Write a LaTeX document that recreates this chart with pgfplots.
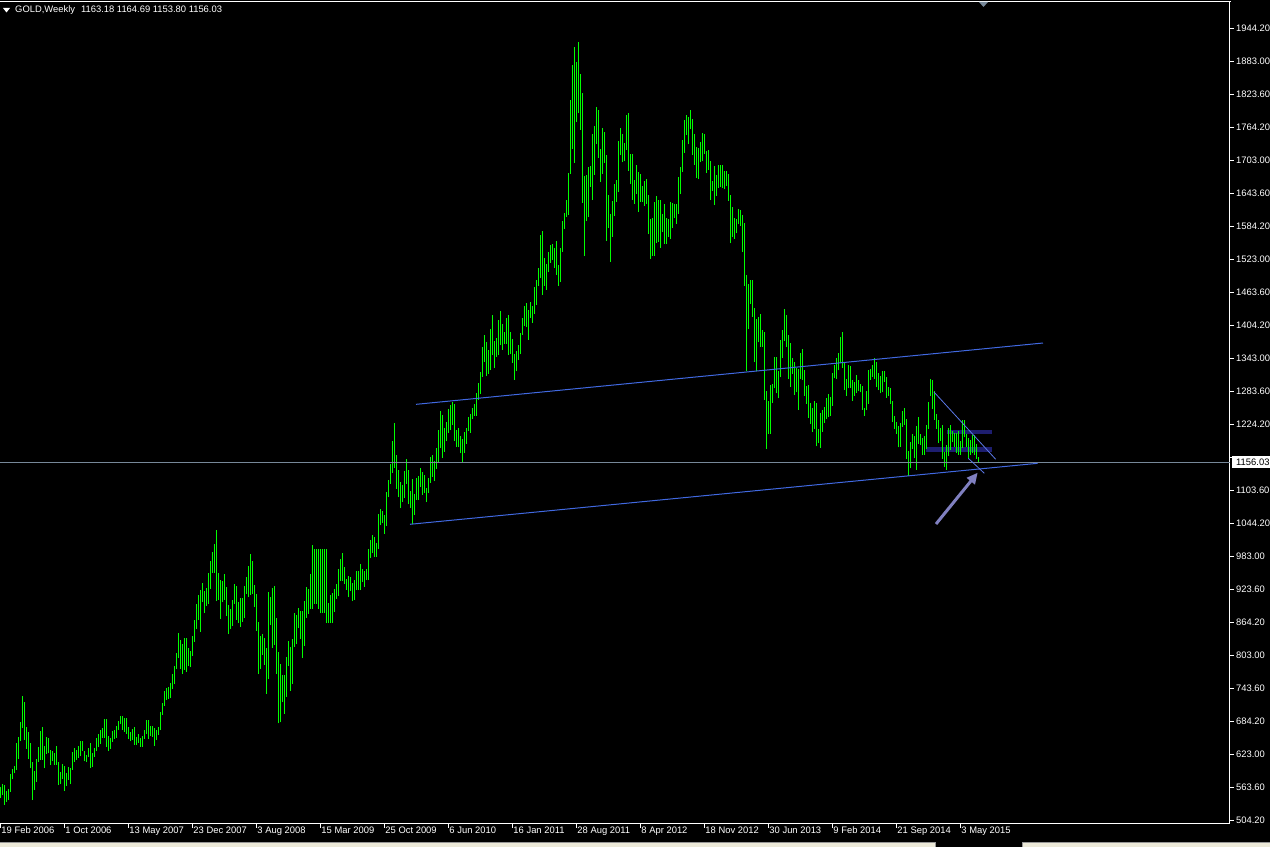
\documentclass[border=0pt]{standalone}
\usepackage{pgfplots}
\usepackage{pgfplotstable}
\pgfplotsset{compat=1.18}
\usetikzlibrary{arrows.meta}
\usepackage{fontspec}
\setmainfont{Liberation Sans}
\definecolor{mtgreen}{RGB}{0,255,0}
\definecolor{mtblue}{RGB}{65,105,225}
\definecolor{mtgray}{RGB}{119,136,153}
\definecolor{mtnavy}{RGB}{30,30,112}
\definecolor{mtarrow}{RGB}{128,128,192}
\definecolor{mttrend}{RGB}{90,120,230}
\definecolor{tabbg}{RGB}{236,233,216}
\definecolor{tabedge}{RGB}{150,150,150}

% weekly bars from 19 Feb 2006, one row per week: high low
\pgfplotstableread{
hi lo
566.1 546.1
570.3 550.3
569.1 532.8
558.2 538.8
561.8 541.8
589.1 557.0
598.2 579.4
603.6 590.3
645.5 596.4
656.4 616.4
683.7 649.1
730.9 673.4
720.0 650.9
674.6 634.6
665.5 616.4
645.5 600.0
610.3 541.8
594.6 560.0
616.4 574.6
637.6 610.9
667.3 614.6
674.6 614.6
640.0 600.0
656.4 625.5
654.6 626.7
632.7 605.5
630.9 613.4
627.3 605.5
640.0 605.5
610.9 569.1
592.8 570.9
607.3 580.0
603.6 558.2
590.9 567.3
601.8 578.2
600.0 570.9
629.1 596.4
636.4 610.9
632.7 614.6
640.0 618.2
649.1 621.8
649.1 630.9
630.9 612.2
623.6 610.9
636.4 620.0
645.5 600.0
627.3 601.8
636.4 620.0
654.6 630.9
661.8 638.2
669.1 643.6
672.7 654.6
689.1 654.6
689.1 638.2
658.2 630.9
654.6 634.6
667.3 647.3
669.1 652.7
676.4 654.6
685.5 669.1
694.6 680.0
694.6 669.1
690.9 665.5
690.9 661.8
674.6 652.7
665.5 649.1
670.9 650.9
674.6 641.8
656.4 641.8
661.8 645.5
654.6 638.2
658.2 638.2
669.1 652.7
687.3 661.8
687.3 652.7
676.4 658.2
676.4 656.4
672.7 640.0
669.1 650.9
674.6 660.0
702.0 669.0
718.2 697.0
740.0 713.0
745.5 723.6
747.9 725.5
754.6 727.0
770.9 743.6
785.5 752.0
809.1 780.0
845.5 800.0
832.7 780.0
825.5 770.9
836.4 778.2
836.4 774.6
818.2 785.5
812.7 783.6
840.0 803.6
869.1 829.1
898.2 852.7
914.6 869.1
923.6 847.3
936.4 901.8
921.8 881.8
927.3 894.6
954.6 898.2
976.4 925.5
992.8 954.6
1007.3 954.6
1032.8 903.6
954.6 905.5
941.8 870.9
940.0 901.8
952.7 905.5
929.1 876.4
896.4 843.6
889.1 852.7
905.5 858.2
934.6 898.2
930.9 869.1
901.8 863.6
909.1 856.4
909.1 865.5
930.9 872.7
947.3 916.4
967.3 910.9
989.1 914.6
976.4 916.4
932.7 892.7
916.4 849.1
865.5 770.9
840.0 780.0
843.6 805.5
836.4 787.3
818.2 734.6
920.0 761.8
910.9 860.0
927.3 818.2
930.9 823.6
872.7 770.9
810.9 681.0
790.0 683.0
769.1 720.0
769.1 698.2
801.8 729.1
830.9 785.5
820.0 740.0
834.6 752.7
881.8 820.0
878.0 825.0
890.9 854.6
885.5 834.6
885.5 800.0
903.6 821.8
929.1 872.7
925.0 880.0
952.7 889.1
1005.5 889.1
998.2 898.2
998.2 898.2
998.2 889.1
998.2 881.8
998.2 881.8
998.2 881.8
998.2 863.6
900.0 863.6
914.6 863.6
918.2 863.6
925.5 883.6
934.6 907.3
961.8 912.7
980.0 940.0
990.9 940.0
965.5 934.6
943.6 923.6
949.1 910.9
947.3 921.8
936.4 903.6
941.8 905.5
958.2 923.6
958.2 923.6
970.9 923.6
961.8 938.2
958.2 929.1
961.8 941.8
998.2 941.8
1014.5 981.8
1023.6 990.9
1020.0 983.6
1009.1 983.6
1061.8 998.2
1070.9 1041.8
1067.3 1045.5
1060.0 1025.5
1101.8 1040.0
1123.6 1092.7
1152.7 1116.4
1194.5 1136.4
1227.3 1145.5
1169.1 1107.3
1141.8 1092.7
1120.0 1072.7
1114.5 1083.6
1140.0 1090.9
1161.8 1116.4
1141.8 1080.0
1103.6 1072.7
1125.5 1043.6
1098.2 1060.0
1127.3 1087.3
1130.9 1087.3
1145.5 1110.9
1138.2 1096.4
1132.7 1100.0
1109.1 1083.6
1127.3 1100.0
1165.5 1118.2
1169.1 1129.1
1158.2 1121.8
1181.8 1143.6
1214.5 1154.6
1249.1 1181.8
1241.8 1163.6
1218.2 1174.6
1229.1 1194.5
1252.7 1209.1
1260.0 1214.5
1265.5 1223.6
1261.8 1194.5
1214.5 1183.6
1218.2 1183.6
1203.6 1172.7
1198.2 1154.6
1210.9 1172.7
1218.2 1189.1
1238.2 1212.7
1243.6 1209.1
1254.5 1234.5
1261.8 1240.0
1281.8 1240.0
1300.0 1269.1
1320.0 1280.0
1365.5 1310.9
1387.3 1338.2
1374.5 1312.7
1360.0 1316.4
1398.2 1323.6
1423.6 1350.9
1376.4 1327.3
1381.8 1347.3
1414.5 1350.9
1430.9 1369.1
1407.3 1360.0
1392.7 1370.9
1418.2 1370.9
1423.6 1350.9
1392.7 1352.7
1380.0 1336.4
1352.7 1305.5
1358.2 1321.8
1369.1 1341.8
1390.9 1352.7
1418.2 1387.3
1440.0 1403.6
1445.5 1401.8
1432.7 1378.2
1447.3 1418.2
1440.0 1409.1
1474.5 1425.5
1487.3 1441.8
1509.1 1476.4
1569.1 1490.9
1576.4 1460.0
1527.3 1476.4
1516.4 1469.1
1538.2 1501.8
1550.9 1518.2
1552.7 1523.6
1545.5 1509.1
1558.2 1496.4
1514.5 1476.4
1545.5 1483.6
1594.5 1538.2
1609.1 1580.0
1632.7 1601.8
1681.8 1605.5
1814.5 1680.0
1878.2 1725.5
1910.9 1700.0
1883.6 1774.5
1920.0 1790.9
1861.8 1760.0
1827.3 1627.3
1676.4 1530.9
1678.2 1594.5
1692.7 1601.8
1694.5 1656.4
1752.7 1632.7
1767.3 1678.2
1801.8 1734.5
1796.4 1709.1
1725.5 1665.5
1763.6 1680.0
1756.4 1700.0
1714.5 1558.2
1641.8 1581.8
1607.3 1520.0
1630.9 1565.5
1661.8 1603.6
1669.1 1629.1
1740.0 1647.3
1763.6 1714.5
1752.7 1701.8
1736.4 1703.6
1787.3 1723.6
1790.9 1685.5
1716.4 1661.8
1716.4 1632.7
1669.1 1625.5
1696.4 1643.6
1683.6 1610.9
1680.0 1629.1
1658.2 1629.1
1667.3 1621.8
1670.9 1625.5
1641.8 1570.9
1598.2 1525.5
1600.0 1530.9
1629.1 1530.9
1640.0 1554.5
1632.7 1556.4
1632.7 1545.5
1607.3 1574.5
1625.5 1552.7
1600.0 1552.7
1598.2 1565.5
1629.1 1561.8
1627.3 1581.8
1625.5 1600.0
1625.5 1589.1
1674.5 1607.3
1692.7 1643.6
1741.8 1683.6
1778.2 1718.2
1787.3 1750.9
1783.6 1734.5
1796.4 1761.8
1780.0 1714.5
1752.7 1696.4
1729.1 1672.7
1727.3 1670.9
1738.2 1701.8
1754.5 1703.6
1752.7 1716.4
1721.8 1681.8
1723.6 1687.3
1703.6 1632.7
1667.3 1649.1
1694.5 1623.6
1678.2 1640.0
1696.4 1654.5
1696.4 1656.4
1696.0 1655.0
1686.0 1652.0
1685.0 1659.0
1680.0 1631.0
1642.0 1554.0
1620.0 1565.0
1600.0 1562.0
1598.0 1572.0
1617.0 1589.0
1615.0 1586.0
1605.0 1539.0
1591.0 1476.0
1497.0 1321.0
1480.0 1398.0
1488.0 1444.0
1487.0 1420.0
1437.0 1338.0
1417.0 1322.0
1420.0 1374.0
1425.0 1366.0
1397.0 1366.0
1393.0 1269.0
1286.0 1180.0
1267.0 1207.0
1297.0 1208.0
1298.0 1264.0
1348.0 1290.0
1347.0 1281.0
1321.0 1272.0
1379.0 1310.0
1397.0 1345.0
1434.0 1376.0
1423.0 1365.0
1387.0 1307.0
1372.0 1293.0
1345.0 1316.0
1339.0 1278.0
1328.0 1283.0
1326.0 1251.0
1355.0 1308.0
1361.0 1305.0
1324.0 1277.0
1294.0 1262.0
1297.0 1237.0
1264.0 1226.0
1254.0 1211.0
1267.0 1217.0
1264.0 1185.0
1216.0 1191.0
1245.0 1182.0
1251.0 1211.0
1256.0 1227.0
1272.0 1234.0
1280.0 1238.0
1274.0 1240.0
1318.0 1259.0
1332.0 1309.0
1346.0 1307.0
1355.0 1323.0
1384.0 1336.0
1392.0 1327.0
1339.0 1287.0
1307.0 1277.0
1332.0 1290.0
1331.0 1291.0
1306.0 1268.0
1301.0 1277.0
1315.0 1282.0
1305.0 1285.0
1298.0 1283.0
1295.0 1251.0
1255.0 1240.0
1285.0 1250.0
1324.0 1262.0
1326.0 1306.0
1332.0 1311.0
1345.0 1308.0
1339.0 1292.0
1318.0 1287.0
1312.0 1281.0
1322.0 1283.0
1321.0 1302.0
1310.0 1273.0
1292.0 1276.0
1290.0 1262.0
1268.0 1229.0
1240.0 1216.0
1229.0 1207.0
1222.0 1183.0
1227.0 1184.0
1249.0 1220.0
1255.0 1224.0
1235.0 1161.0
1177.0 1131.0
1192.0 1145.0
1208.0 1180.0
1203.0 1163.0
1222.0 1142.0
1238.0 1190.0
1208.0 1187.0
1200.0 1170.0
1203.0 1170.0
1223.0 1180.0
1266.0 1216.0
1307.0 1276.0
1305.0 1252.0
1286.0 1233.0
1244.0 1216.0
1233.0 1191.0
1219.0 1194.0
1223.0 1162.0
1175.0 1147.0
1188.0 1142.0
1219.0 1167.0
1224.0 1178.0
1213.0 1192.0
1209.0 1183.0
1209.0 1173.0
1213.0 1170.0
1194.0 1170.0
1232.0 1182.0
1232.0 1201.0
1207.0 1183.0
1200.0 1163.0
1196.0 1170.0
1205.0 1172.0
1205.0 1169.0
1189.0 1162.0
1164.69 1153.80
}\goldbars

\begin{document}
\begin{tikzpicture}[x=1bp,y=1bp]
\fill[black] (0,0) rectangle (1270,847);
% window tabs strip at the bottom
\fill[tabbg] (0,0) rectangle (935,4.5);
\draw[tabedge, line width=0.8bp] (0,4.5) -- (935,4.5) -- (935,0);
\fill[tabbg] (1022,0) rectangle (1270,4.5);
\draw[tabedge, line width=0.8bp] (1022,0) -- (1022,4.5) -- (1270,4.5);
\begin{axis}[
  at={(0bp,23bp)}, anchor=south west,
  scale only axis, width=1230bp, height=822bp,
  xmin=-0.15, xmax=614.85, ymin=498.2, ymax=1992.75,
  axis x line*=bottom, axis y line*=right,
  axis line style={white, line width=1bp},
  tick align=outside, major tick length=4bp,
  tick style={white, line width=1bp},
  minor tick num=0,
  xtick={0,32,64,96,128,160,192,224,256,288,320,352,384,416,448,480},
  xticklabels={19 Feb 2006,1 Oct 2006,13 May 2007,23 Dec 2007,3 Aug 2008,15 Mar 2009,25 Oct 2009,6 Jun 2010,16 Jan 2011,28 Aug 2011,8 Apr 2012,18 Nov 2012,30 Jun 2013,9 Feb 2014,21 Sep 2014,3 May 2015},
  ytick={504.2,564.2,624.2,684.2,744.2,804.2,864.2,924.2,984.2,1044.2,1104.2,1164.2,1224.2,1284.2,1344.2,1404.2,1464.2,1524.2,1584.2,1644.2,1704.2,1764.2,1824.2,1884.2,1944.2},
  yticklabels={504.20,563.60,623.00,684.20,743.60,803.00,864.20,923.60,983.00,1044.20,1103.60,,1224.20,1283.60,1343.00,1404.20,1463.60,1523.00,1584.20,1643.60,1703.00,1764.20,1823.60,1883.00,1944.20},
  ticklabel style={text=white, font=\fontsize{9.4bp}{10bp}\selectfont, inner sep=0pt},
  xticklabel style={anchor=north west, xshift=1bp, yshift=1.5bp},
  yticklabel style={anchor=west, xshift=2bp},
]
% background rectangles
\addplot[mtnavy, line width=4.5bp, forget plot] coordinates {(462.7,1179.1) (495.7,1179.1)};
\addplot[mtnavy, line width=4.5bp, forget plot] coordinates {(473.2,1210.9) (495.7,1210.9)};
% weekly high-low bars
\addplot[draw=none, mark=none, forget plot,
  error bars/.cd, y dir=plus, y explicit, error mark=none,
  error bar style={draw=mtgreen, line width=1bp}]
  table[x expr=\coordindex, y=lo, y error expr=\thisrow{hi}-\thisrow{lo}] {\goldbars};
% bid line
\addplot[mtgray, line width=1bp, forget plot] coordinates {(-0.15,1156.03) (614.85,1156.03)};
% channel
\addplot[mtblue, line width=1bp, forget plot] coordinates {(207.85,1261.2) (521.35,1372.7)};
\addplot[mtblue, line width=1bp, forget plot] coordinates {(204.85,1043.1) (518.7,1154.0)};
% small descending channel
\addplot[mttrend, line width=0.8bp, forget plot] coordinates {(466.85,1283.6) (497.7,1161.3)};
\addplot[mttrend, line width=0.8bp, forget plot] coordinates {(484.0,1163.1) (492.0,1135.9)};
% arrow
\addplot[mtarrow, line width=3bp, -{Triangle[length=11bp,width=10bp]}, forget plot] coordinates {(467.85,1043.6) (488.7,1136.9)};
\end{axis}
% top frame line
\draw[white, line width=1bp] (0,845) -- (1230.5,845);
% header
\fill[white] (3,839) -- (10,839) -- (6.5,834.5) -- cycle;
\node[anchor=west, inner sep=0pt, text=white, font=\fontsize{9.4bp}{10bp}\selectfont] at (15,836.5) {GOLD,Weekly\hspace{6bp}1163.18 1164.69 1153.80 1156.03};
% chart shift marker
\fill[mtgray] (979,845) -- (988,845) -- (983.5,840) -- cycle;
% current price box
\fill[white] (1232,379) rectangle (1270,391);
\node[anchor=west, inner sep=0pt, text=black, font=\fontsize{9.4bp}{10bp}\selectfont] at (1236,385) {1156.03};
\pgfresetboundingbox
\path[use as bounding box] (0,0) rectangle (1270,847);
\end{tikzpicture}
\end{document}
